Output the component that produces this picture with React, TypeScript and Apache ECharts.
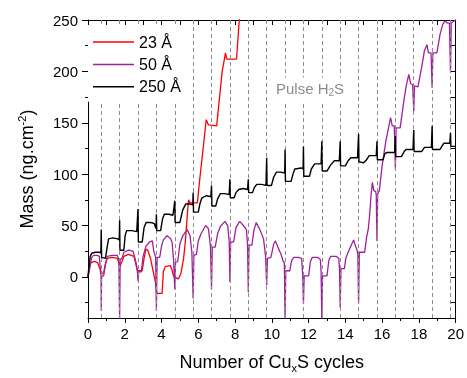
import React, { useEffect, useRef } from 'react';
import * as echarts from 'echarts';

// H2S pulse positions (cycle number)
const pulseX = [0.72, 1.72, 2.72, 3.72, 4.72, 5.72, 6.72, 7.72, 8.72, 9.72, 10.72, 11.72, 12.72, 13.72, 14.72, 15.72, 16.72, 17.72, 18.72, 19.72];

const yLabelValues = [0, 50, 100, 150, 200, 250];
const yMinorValues = [-25, 25, 75, 125, 175, 225];
const yAllValues = [-25, 0, 25, 50, 75, 100, 125, 150, 175, 200, 225, 250];

// 23 Å
const redX = [0, 0.08, 0.16, 0.35, 0.52, 0.62, 0.7, 0.74, 0.85, 0.95, 1.05, 1.3, 1.6, 1.7, 1.74, 1.85, 1.95, 2.2, 2.5, 2.6, 2.68, 2.95, 3.05, 3.15, 3.25, 3.4, 3.55, 3.67, 3.74, 4.03, 4.1, 4.2, 4.47, 4.55, 4.62, 4.68, 4.92, 5.05, 5.2, 5.3, 5.4, 5.47, 5.55, 5.95, 6.05, 6.2, 6.3, 6.43, 6.55, 7.0, 7.1, 7.3, 7.48, 7.55, 8.08, 8.23, 8.3];
const redY = [0, 8, 14, 15, 14, 9, 6, 3, 4, 13, 18, 19, 18, 12, 10, 15, 20, 22, 20, 13, 6, 6, 18, 27, 26, 18, 5, -5, -16, -16, 5, 10, 11, 8, 3, 0, -2, 3, 18, 35, 60, 75, 72, 72, 90, 115, 131, 153, 148, 147, 165, 200, 218, 212, 212, 250, 265];

// 50 Å
const purpleX = [0, 0.08, 0.2, 0.3, 0.5, 0.62, 0.68, 0.71, 0.72, 0.74, 0.85, 0.95, 1.05, 1.3, 1.6, 1.68, 1.72, 1.75, 1.85, 1.95, 2.2, 2.45, 2.6, 2.68, 2.72, 2.76, 2.9, 3.0, 3.15, 3.35, 3.5, 3.58, 3.68, 3.72, 3.76, 3.9, 4.0, 4.1, 4.3, 4.5, 4.58, 4.66, 4.72, 4.76, 4.88, 5.0, 5.15, 5.4, 5.55, 5.65, 5.72, 5.76, 5.9, 6.0, 6.15, 6.4, 6.55, 6.66, 6.72, 6.76, 6.92, 7.05, 7.2, 7.45, 7.6, 7.68, 7.72, 7.76, 7.92, 8.05, 8.25, 8.45, 8.62, 8.68, 8.72, 8.76, 8.92, 9.02, 9.15, 9.35, 9.55, 9.66, 9.72, 9.76, 9.95, 10.1, 10.2, 10.35, 10.5, 10.62, 10.68, 10.72, 10.76, 10.98, 11.08, 11.2, 11.45, 11.62, 11.68, 11.72, 11.76, 12.0, 12.1, 12.2, 12.5, 12.64, 12.68, 12.72, 12.76, 13.0, 13.1, 13.2, 13.5, 13.64, 13.68, 13.72, 13.76, 13.95, 14.02, 14.15, 14.35, 14.45, 14.55, 14.62, 14.68, 14.72, 14.76, 15.05, 15.15, 15.25, 15.32, 15.4, 15.47, 15.55, 15.65, 15.68, 15.72, 15.76, 15.85, 16.0, 16.2, 16.46, 16.55, 16.66, 16.72, 16.76, 16.98, 17.18, 17.3, 17.45, 17.55, 17.66, 17.72, 17.76, 17.95, 18.17, 18.3, 18.44, 18.52, 18.66, 18.72, 18.76, 18.98, 19.15, 19.3, 19.42, 19.55, 19.66, 19.72, 19.76, 20];
const purpleY = [0, 8, 19, 21, 21, 20, 4, 2, -33, 1, 1, 12, 20, 21, 21, 16, -42, 17, 18, 24, 26, 25, 15, 7, -4, 5, 5, 20, 30, 34, 35, 25, 19, -33, 19, 19, 30, 36, 40, 37, 33, 15, -12, 14, 15, 32, 40, 46, 40, 24, -21, 21, 22, 35, 42, 50, 47, 30, -12, 29, 29, 42, 49, 54, 50, 35, -5, 34, 34, 48, 54, 50, 46, 31, -15, 31, 31, 45, 53, 46, 37, 20, -8, 18, 19, 32, 35, 28, 22, 15, 14, -42, 6, 6, 16, 19, 19, 18, 2, -26, 1, 1, 15, 19, 19, 17, 5, -42, 1, 1, 16, 20, 20, 18, 8, -30, 8, 8, 18, 24, 32, 36, 30, 27, 22, -26, 24, 24, 38, 47, 60, 80, 92, 84, 83, 80, 35, 81, 84, 108, 132, 155, 147, 147, 105, 145, 145, 171, 185, 197, 188, 187, 161, 186, 185, 206, 220, 226, 218, 218, 184, 218, 218, 236, 246, 249, 247, 247, 199, 247, 250];

// 250 Å
const blackX = [0, 0.05, 0.12, 0.2, 0.4, 0.65, 0.7, 0.72, 0.74, 0.95, 1.05, 1.12, 1.35, 1.62, 1.7, 1.72, 1.74, 1.95, 2.02, 2.1, 2.4, 2.65, 2.72, 2.74, 2.95, 3.05, 3.16, 3.4, 3.6, 3.7, 3.72, 3.74, 3.95, 4.05, 4.15, 4.4, 4.62, 4.72, 4.74, 5.0, 5.15, 5.32, 5.55, 5.7, 5.72, 5.74, 6.0, 6.1, 6.2, 6.45, 6.68, 6.72, 6.74, 6.95, 7.05, 7.2, 7.45, 7.68, 7.72, 7.74, 7.95, 8.05, 8.2, 8.45, 8.68, 8.72, 8.74, 8.95, 9.05, 9.18, 9.45, 9.68, 9.72, 9.74, 9.98, 10.1, 10.25, 10.5, 10.7, 10.72, 10.74, 11.05, 11.15, 11.25, 11.6, 11.7, 11.72, 11.74, 12.05, 12.15, 12.33, 12.68, 12.72, 12.74, 13.0, 13.2, 13.4, 13.67, 13.72, 13.74, 14.0, 14.15, 14.3, 14.66, 14.72, 14.74, 15.0, 15.15, 15.3, 15.68, 15.72, 15.74, 16.05, 16.15, 16.25, 16.68, 16.72, 16.74, 17.05, 17.2, 17.3, 17.68, 17.72, 17.74, 18.15, 18.3, 18.68, 18.72, 18.74, 19.15, 19.35, 19.68, 19.72, 19.74, 20];
const blackY = [0, 10, 20, 23, 24, 24, 23, 46, 19, 18, 30, 37, 38, 37, 36, 55, 26, 26, 40, 45, 45, 44, 66, 34, 34, 48, 53, 53, 52, 47, 61, 45, 45, 56, 61, 61, 60, 74, 53, 53, 65, 71, 71, 70, 82, 63, 63, 72, 77, 79, 78, 89, 69, 69, 76, 81, 81, 80, 95, 77, 77, 82, 85, 86, 85, 95, 82, 82, 87, 90, 90, 89, 116, 89, 89, 97, 102, 102, 101, 124, 93, 93, 100, 105, 106, 105, 127, 98, 98, 105, 110, 110, 132, 103, 103, 109, 113, 113, 132, 108, 108, 113, 116, 116, 139, 112, 111, 114, 118, 118, 132, 114, 114, 120, 121, 121, 137, 117, 117, 122, 124, 124, 143, 122, 122, 126, 126, 147, 124, 124, 130, 130, 140, 127, 127];

const zip = (xs: number[], ys: number[]) => xs.map((x, i) => [x, ys[i]]);

const FONT = 'Liberation Sans, Arial, sans-serif';

export default function App() {
  const ref = useRef<HTMLDivElement>(null);
  useEffect(() => {
    const chart = echarts.init(ref.current!, null, { renderer: 'svg' });
    const option: any = {
      animation: false,
      textStyle: { fontFamily: FONT },
      grid: { left: 88, right: 8, top: 20, bottom: 58 },
      title: {
        text: '{a|Pulse H}{b|2}{a|S}',
        left: 274,
        top: 76,
        padding: [3, 2, 5, 2],
        backgroundColor: '#ffffff',
        z: 10,
        textStyle: {
          fontWeight: 'normal',
          rich: {
            a: { fontSize: 15, color: '#8c8c8c', fontFamily: FONT, fontWeight: 'normal', lineHeight: 18 },
            b: { fontSize: 10, color: '#8c8c8c', fontFamily: FONT, fontWeight: 'normal', lineHeight: 18, verticalAlign: 'bottom' },
          },
        },
      },
      legend: {
        data: [
          { name: '23 Å', icon: 'rect' },
          { name: '50 Å', icon: 'rect' },
          { name: '250 Å', icon: 'rect' },
        ],
        orient: 'vertical',
        left: 88,
        top: 25,
        padding: [9, 8, 7, 5],
        backgroundColor: '#ffffff',
        z: 10,
        itemWidth: 41,
        itemHeight: 1.5,
        itemGap: 6.4,
        textStyle: { fontSize: 16, color: '#000', fontFamily: FONT, lineHeight: 16 },
      },
      xAxis: [
        {
          type: 'value',
          position: 'bottom',
          min: 0,
          max: 20,
          interval: 2,
          axisLine: { show: true, onZero: false, lineStyle: { color: '#000', width: 1 } },
          axisTick: { show: true, inside: false, length: 5, lineStyle: { color: '#000' } },
          minorTick: { show: true, splitNumber: 2, length: 3, lineStyle: { color: '#000' } },
          axisLabel: { fontSize: 15, color: '#000', margin: 8, fontFamily: FONT },
          splitLine: { show: false },
          name: 'Number of Cu{sub|x}S cycles',
          nameLocation: 'middle',
          nameGap: 33,
          nameTextStyle: {
            fontSize: 18,
            color: '#000',
            fontFamily: FONT,
            rich: {
              sub: { fontSize: 11, color: '#000', fontFamily: FONT, verticalAlign: 'bottom', lineHeight: 22 },
            },
          },
        },
        {
          type: 'value',
          position: 'top',
          min: 0,
          max: 20,
          interval: 1,
          axisLine: { show: true, onZero: false, lineStyle: { color: '#000', width: 1 } },
          axisTick: { show: true, inside: true, length: 5, lineStyle: { color: '#000' } },
          axisLabel: { show: false },
          splitLine: { show: false },
        },
      ],
      yAxis: [
        {
          type: 'value',
          position: 'left',
          min: -40,
          max: 250,
          axisLine: { show: true, onZero: false, lineStyle: { color: '#000', width: 1 } },
          axisTick: { show: true, inside: false, length: 6, customValues: yLabelValues, lineStyle: { color: '#000' } },
          axisLabel: { fontSize: 15, color: '#000', margin: 10, customValues: yLabelValues, fontFamily: FONT },
          splitLine: { show: false },
          name: 'Mass (ng.cm{sup|-2})',
          nameLocation: 'middle',
          nameGap: 50,
          nameTextStyle: {
            fontSize: 18,
            color: '#000',
            fontFamily: FONT,
            rich: {
              sup: { fontSize: 11, color: '#000', fontFamily: FONT, verticalAlign: 'top', lineHeight: 22 },
            },
          },
        },
        {
          type: 'value',
          position: 'left',
          min: -40,
          max: 250,
          axisLine: { show: false, onZero: false },
          axisTick: { show: true, inside: false, length: 3, customValues: yMinorValues, lineStyle: { color: '#000' } },
          axisLabel: { show: false },
          splitLine: { show: false },
        },
        {
          type: 'value',
          position: 'right',
          min: -40,
          max: 250,
          axisLine: { show: true, onZero: false, lineStyle: { color: '#000', width: 1 } },
          axisTick: { show: true, inside: true, length: 5, customValues: yAllValues, lineStyle: { color: '#000' } },
          axisLabel: { show: false },
          splitLine: { show: false },
        },
      ],
      series: [
        {
          name: 'pulses',
          type: 'line',
          data: [],
          z: 1,
          silent: true,
          markLine: {
            silent: true,
            symbol: ['none', 'none'],
            label: { show: false },
            lineStyle: { color: '#8c8c8c', type: [4, 3], width: 1 },
            data: pulseX.map((x) => ({ xAxis: x })),
          },
        },
        {
          name: '23 Å',
          type: 'line',
          data: zip(redX, redY),
          symbol: 'none',
          z: 3,
          lineStyle: { color: '#ff0000', width: 1.3 },
          itemStyle: { color: '#ff0000' },
        },
        {
          name: '50 Å',
          type: 'line',
          data: zip(purpleX, purpleY),
          symbol: 'none',
          z: 4,
          lineStyle: { color: '#a0209c', width: 1.3 },
          itemStyle: { color: '#a0209c' },
        },
        {
          name: '250 Å',
          type: 'line',
          data: zip(blackX, blackY),
          symbol: 'none',
          z: 5,
          lineStyle: { color: '#000000', width: 1.4 },
          itemStyle: { color: '#000000' },
        },
      ],
    };
    chart.setOption(option);
    return () => chart.dispose();
  }, []);
  return <div ref={ref} style={{ position: 'fixed', left: 0, top: 0, width: 467, height: 378 }} />;
}
